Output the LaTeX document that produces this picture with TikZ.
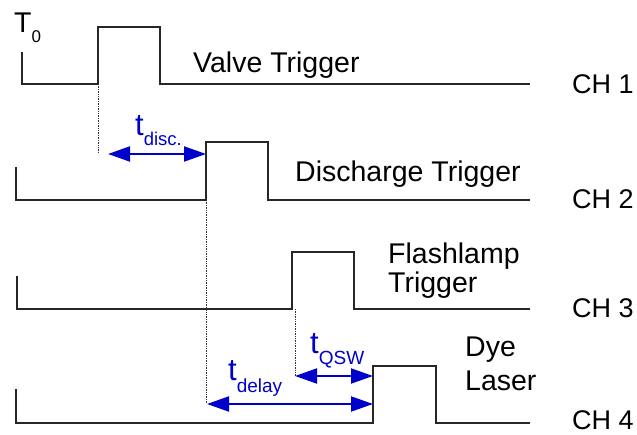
\documentclass[tikz,border=0pt]{standalone}
\usepackage{fontspec}
\setmainfont{Liberation Sans}
\usetikzlibrary{arrows.meta}
\definecolor{tblue}{RGB}{0,0,204}

\begin{document}
\begin{tikzpicture}[
    x=1pt, y=-1pt,
    signal/.style={line width=1.6pt, draw=black!85, line join=miter},
    marker/.style={densely dotted, line width=0.7pt, draw=black!80},
    span/.style={
        {Triangle[length=22pt,width=15pt]}-{Triangle[length=22pt,width=15pt]},
        line width=2pt, draw=tblue,
    },
    siglabel/.style={anchor=base west, inner sep=0pt, font=\fontsize{28.5}{30}\selectfont},
    chlabel/.style={anchor=base west, inner sep=0pt, font=\fontsize{27}{30}\selectfont},
    tlabel/.style={anchor=base west, inner sep=0pt, text=tblue},
]
\useasboundingbox (0,0) rectangle (637,435);

% baselines and pulse edges
\def\xend{530}
\def\yA{84}   % Valve Trigger
\def\yB{200}  % Discharge Trigger
\def\yC{309}  % Flashlamp Trigger
\def\yD{423}  % Dye Laser

% --- CH 1 ---
\coordinate (v rise) at (98,\yA);
\coordinate (v fall) at (160,\yA);
\draw[signal] (22,52) -- (22,\yA) -- (v rise) -- (98,27) -- (160,27) -- (v fall) -- (\xend,\yA);

% --- CH 2 ---
\coordinate (d rise) at (206,\yB);
\coordinate (d fall) at (268,\yB);
\draw[signal] (16,167) -- (16,\yB) -- (d rise) -- (206,142) -- (268,142) -- (d fall) -- (\xend,\yB);

% --- CH 3 ---
\coordinate (f rise) at (292,\yC);
\coordinate (f fall) at (354,\yC);
\draw[signal] (17,276) -- (17,\yC) -- (f rise) -- (292,252) -- (354,252) -- (f fall) -- (\xend,\yC);

% --- CH 4 ---
\coordinate (l rise) at (373,\yD);
\coordinate (l fall) at (436,\yD);
\draw[signal] (16,389) -- (16,\yD) -- (l rise) -- (373,366) -- (436,366) -- (l fall) -- (\xend,\yD);

% signal names
\node[siglabel] (t0) at (14,33) {T\raisebox{-10pt}{\fontsize{17}{17}\selectfont 0}};
\node[siglabel] (valve) at (193,73) {Valve Trigger};
\node[siglabel] (discharge) at (295,182) {Discharge Trigger};
\node[siglabel] (flash1) at (388,264) {Flashlamp};
\node[siglabel] (flash2) at (388,293) {Trigger};
\node[siglabel] (dye1) at (465,356) {Dye};
\node[siglabel] (dye2) at (465,390) {Laser};

% channel labels
\node[chlabel] (ch1) at (572,94)  {CH 1};
\node[chlabel] (ch2) at (572,209) {CH 2};
\node[chlabel] (ch3) at (572,318) {CH 3};
\node[chlabel] (ch4) at (572,429) {CH 4};

% --- delays ---
\coordinate (disc end) at (98,153);
\coordinate (disc start) at (108,154);
\draw[marker] (v rise) -- (disc end);
\draw[span] (disc start) -- (disc start -| d rise);
\node[tlabel] (tdisc) at (135,136)
    {\fontsize{31}{31}\selectfont t\raisebox{-10pt}{\fontsize{18.5}{18.5}\selectfont disc.}};

\coordinate (qsw start) at (295,376);
\draw[marker] (f rise -| qsw start) -- (qsw start);
\draw[span] (qsw start) -- (qsw start -| l rise);
\node[tlabel] (tqsw) at (310,354)
    {\fontsize{31}{31}\selectfont t\raisebox{-11pt}{\fontsize{19}{19}\selectfont QSW}};

\coordinate (delay start) at (207,404);
\draw[marker] (d rise) -- (d rise |- delay start);
\draw[span] (delay start) -- (delay start -| l rise);
\node[tlabel] (tdelay) at (228,381)
    {\fontsize{31}{31}\selectfont t\raisebox{-12pt}{\fontsize{19}{19}\selectfont delay}};

\end{tikzpicture}
\end{document}
